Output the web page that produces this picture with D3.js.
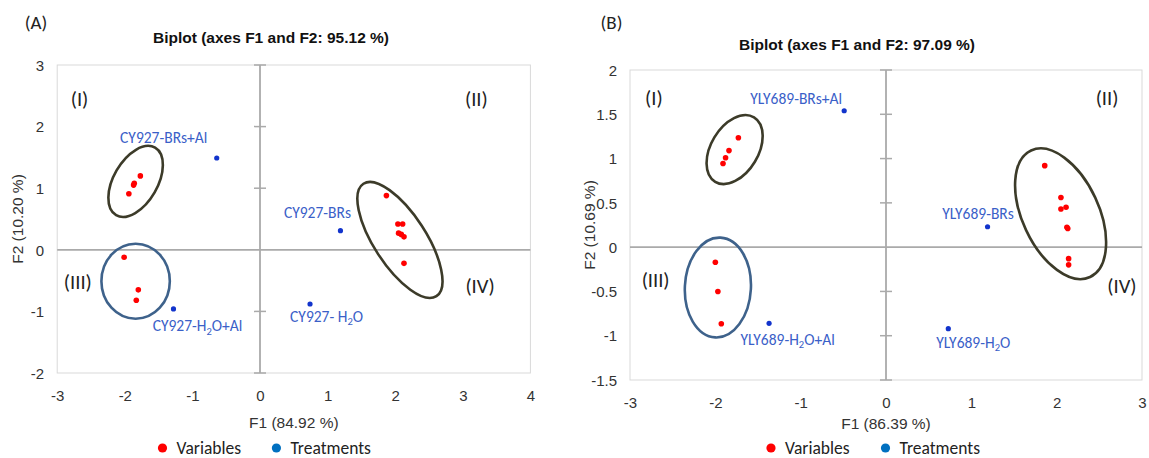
<!DOCTYPE html>
<html>
<head>
<meta charset="utf-8">
<script src="https://cdn.jsdelivr.net/npm/d3@7"></script>
<style>
  body { margin: 0; background: #fff; }
  svg { display: block; }
</style>
</head>
<body>
<svg id="chart" width="1149" height="458"></svg>
<script>
// ---------- Panel A: CY927 ----------
const aTag = "(A)";
const aTitle = "Biplot (axes F1 and F2: 95.12 %)";
const aXLabel = "F1 (84.92 %)";
const aYLabel = "F2 (10.20 %)";
const aXTicks = [-3, -2, -1, 0, 1, 2, 3, 4];
const aYTicks = [-2, -1, 0, 1, 2, 3];
const aVarF1 = [-1.77, -1.86, -1.87, -1.94, -2.01, -1.80, -1.83, 1.87, 2.04, 2.11, 2.05, 2.09, 2.13, 2.13];
const aVarF2 = [1.20, 1.08, 1.05, 0.91, -0.12, -0.65, -0.82, 0.88, 0.42, 0.42, 0.27, 0.25, 0.21, -0.22];
const aTreatNames = ["CY927-BRs+Al", "CY927-BRs", "CY927- H2O", "CY927-H2O+Al"];
const aTreatF1 = [-0.64, 1.19, 0.74, -1.28];
const aTreatF2 = [1.49, 0.31, -0.88, -0.96];
// variable groups: centre (F1, F2), semi-axes (F1 units, F2 units), tilt in degrees
const aGroupF1 = [-1.84, -1.84, 2.07];
const aGroupF2 = [1.11, -0.51, 0.16];
const aGroupRx = [0.325, 0.506, 0.385];
const aGroupRy = [0.633, 0.609, 1.088];
const aGroupTilt = [30, 0, -33];
const aGroupKind = ["olive", "blue", "olive"];
const aQuadNames = ["(I)", "(II)", "(III)", "(IV)"];
const aQuadF1 = [-2.67, 3.2, -2.695, 3.255];
const aQuadF2 = [2.45, 2.45, -0.515, -0.585];

// ---------- Panel B: YLY689 ----------
const bTag = "(B)";
const bTitle = "Biplot (axes F1 and F2: 97.09 %)";
const bXLabel = "F1 (86.39 %)";
const bYLabel = "F2 (10.69 %)";
const bXTicks = [-3, -2, -1, 0, 1, 2, 3];
const bYTicks = [-1.5, -1, -0.5, 0, 0.5, 1, 1.5, 2];
const bVarF1 = [-1.73, -1.84, -1.88, -1.91, -2.00, -1.97, -1.93, 1.86, 2.05, 2.05, 2.11, 2.12, 2.13, 2.14, 2.14];
const bVarF2 = [1.235, 1.09, 1.01, 0.945, -0.17, -0.50, -0.865, 0.92, 0.56, 0.43, 0.45, 0.225, 0.21, -0.13, -0.20];
const bTreatNames = ["YLY689-BRs+Al", "YLY689-BRs", "YLY689-H2O", "YLY689-H2O+Al"];
const bTreatF1 = [-0.49, 1.19, 0.73, -1.37];
const bTreatF2 = [1.54, 0.23, -0.92, -0.86];
const bGroupF1 = [-1.774, -1.97, 2.046];
const bGroupF2 = [1.102, -0.456, 0.377];
const bGroupRx = [0.277, 0.387, 0.448];
const bGroupRy = [0.425, 0.564, 0.788];
const bGroupTilt = [31, 3, -25];
const bGroupKind = ["olive", "blue", "olive"];
const bQuadNames = ["(I)", "(II)", "(III)", "(IV)"];
const bQuadF1 = [-2.72, 2.59, -2.70, 2.765];
const bQuadF2 = [1.686, 1.686, -0.371, -0.44];

const legendNames = ["Variables", "Treatments"];

// ---------- styling ----------
const COL_VAR = "#ff0000";
const COL_TREAT = "#1234cc";
const COL_TREAT_TEXT = "#3a60c8";
const COL_LEG_TREAT = "#0070c0";
const COL_ELLIPSE = { olive: "#3c3b29", blue: "#3e628b" };
const SANS = "'Liberation Sans', Arial, sans-serif";
const LABEL_FONT = "Calibri, Carlito, Lato, 'Open Sans', sans-serif";

const svg = d3.select("#chart");

function drawPanel(p) {
  const x = d3.scaleLinear().domain(p.xDomain).range(p.xRange);
  const y = d3.scaleLinear().domain(p.yDomain).range(p.yRange);
  const g = svg.append("g");
  const [x0, x1] = p.xRange;
  const [y0, y1] = p.yRange; // y0 bottom, y1 top

  // plot frame
  g.append("rect")
    .attr("x", x0).attr("y", y1)
    .attr("width", x1 - x0).attr("height", y0 - y1)
    .attr("fill", "none").attr("stroke", "#d9d9d9").attr("stroke-width", 1);

  // axes crossing at the origin
  g.append("line")
    .attr("x1", x0).attr("x2", x1).attr("y1", y(0)).attr("y2", y(0))
    .attr("stroke", "#aaaaaa").attr("stroke-width", 1.8);
  g.append("line")
    .attr("x1", x(0)).attr("x2", x(0)).attr("y1", y1).attr("y2", y0)
    .attr("stroke", "#aaaaaa").attr("stroke-width", 1.8);
  // tick marks on the vertical axis
  g.selectAll(".ytm").data(p.yTicks.filter(v => v !== 0)).join("line")
    .attr("x1", x(0) - 6).attr("x2", x(0) + 6)
    .attr("y1", d => y(d)).attr("y2", d => y(d))
    .attr("stroke", "#aaaaaa").attr("stroke-width", 1.5);

  // tick labels (axis lines themselves drawn above)
  const yAxis = d3.axisLeft(y).tickValues(p.yTicks).tickSize(0).tickPadding(0)
    .tickFormat(d => String(d));
  const ya = g.append("g").attr("transform", `translate(${x0 - 13},0)`).call(yAxis);
  const xAxis = d3.axisBottom(x).tickValues(p.xTicks).tickSize(0).tickPadding(0)
    .tickFormat(d => String(d));
  const xa = g.append("g").attr("transform", `translate(0,${y0 + 17})`).call(xAxis);
  [ya, xa].forEach(a => {
    a.select(".domain").remove();
    a.selectAll("text").attr("font-family", SANS).attr("font-size", 15).attr("fill", "#333");
  });
  ya.selectAll("text").attr("dy", "0.35em");
  xa.selectAll("text").attr("dy", "0.71em");

  // group ellipses
  g.selectAll(".grp").data(p.groups).join("ellipse")
    .attr("cx", d => x(d.f1)).attr("cy", d => y(d.f2))
    .attr("rx", d => Math.abs(x(d.rx) - x(0)))
    .attr("ry", d => Math.abs(y(d.ry) - y(0)))
    .attr("transform", d => `rotate(${d.tilt},${x(d.f1)},${y(d.f2)})`)
    .attr("fill", "none")
    .attr("stroke", d => COL_ELLIPSE[d.kind])
    .attr("stroke-width", 2.6);

  // variables
  g.selectAll(".var").data(p.vars).join("circle")
    .attr("cx", d => x(d.f1)).attr("cy", d => y(d.f2)).attr("r", 2.8)
    .attr("fill", COL_VAR);

  // treatments
  g.selectAll(".trt").data(p.treats).join("circle")
    .attr("cx", d => x(d.f1)).attr("cy", d => y(d.f2)).attr("r", 2.6)
    .attr("fill", COL_TREAT);

  // treatment labels, with subscript in H2O
  const lab = g.selectAll(".tl").data(p.treats).join("text")
    .attr("x", (d, i) => x(d.f1) + p.labelOffsets[i][0])
    .attr("y", (d, i) => y(d.f2) + p.labelOffsets[i][1])
    .attr("text-anchor", "middle").attr("dy", "0.35em")
    .attr("font-family", LABEL_FONT).attr("font-size", p.labelSize)
    .attr("fill", COL_TREAT_TEXT);
  lab.each(function (d) {
    const t = d3.select(this);
    const parts = d.name.split("H2O");
    parts.forEach((part, k) => {
      if (part) t.append("tspan").text(part);
      if (k < parts.length - 1) {
        t.append("tspan").text("H");
        t.append("tspan").text("2").attr("font-size", p.labelSize * 0.68).attr("dy", "0.3em");
        t.append("tspan").text("O").attr("dy", "-0.2em");
      }
    });
  });

  // quadrant numerals
  g.selectAll(".quad").data(p.quads).join("text")
    .attr("x", d => x(d.f1)).attr("y", d => y(d.f2))
    .attr("text-anchor", "middle").attr("dy", "0.35em")
    .attr("font-family", LABEL_FONT).attr("font-size", 20.5).attr("fill", "#222")
    .text(d => d.name);

  // titles
  svg.append("text").attr("x", p.tagPos[0]).attr("y", p.tagPos[1]).attr("dy", "0.35em")
    .attr("text-anchor", "middle").attr("font-family", LABEL_FONT).attr("font-size", 19)
    .attr("fill", "#222").text(p.tag);
  svg.append("text").attr("x", p.titlePos[0]).attr("y", p.titlePos[1]).attr("dy", "0.35em")
    .attr("text-anchor", "middle").attr("font-family", SANS).attr("font-size", 15.5)
    .attr("font-weight", "bold").attr("fill", "#111").text(p.title);
  svg.append("text").attr("x", (x0 + x1) / 2).attr("y", p.xLabelY).attr("dy", "0.35em")
    .attr("text-anchor", "middle").attr("font-family", SANS).attr("font-size", 15.5)
    .attr("fill", "#333").text(p.xLabel);
  svg.append("text")
    .attr("transform", `translate(${p.yLabelX},${(y0 + y1) / 2}) rotate(-90)`)
    .attr("dy", "0.35em").attr("text-anchor", "middle")
    .attr("font-family", SANS).attr("font-size", 15.5).attr("fill", "#333").text(p.yLabel);

  // legend
  const leg = svg.append("g").attr("transform", `translate(0,${p.legendY})`);
  const legColors = [COL_VAR, COL_LEG_TREAT];
  legendNames.forEach((name, i) => {
    leg.append("circle").attr("cx", p.legendX[i]).attr("cy", 0).attr("r", 4.6).attr("fill", legColors[i]);
    leg.append("text").attr("x", p.legendX[i] + 14).attr("y", 0).attr("dy", "0.35em")
      .attr("font-family", LABEL_FONT).attr("font-size", 17.5).attr("fill", "#222").text(name);
  });
}

function zipPoints(f1, f2, names) {
  return f1.map((v, i) => ({ f1: v, f2: f2[i], name: names ? names[i] : null }));
}
function zipGroups(f1, f2, rx, ry, tilt, kind) {
  return f1.map((v, i) => ({ f1: v, f2: f2[i], rx: rx[i], ry: ry[i], tilt: tilt[i], kind: kind[i] }));
}

drawPanel({
  tag: aTag, title: aTitle, xLabel: aXLabel, yLabel: aYLabel,
  xTicks: aXTicks, yTicks: aYTicks,
  xDomain: [-3, 4], yDomain: [-2, 3],
  xRange: [57.2, 530.4], yRange: [373, 65],
  vars: zipPoints(aVarF1, aVarF2),
  treats: zipPoints(aTreatF1, aTreatF2, aTreatNames),
  groups: zipGroups(aGroupF1, aGroupF2, aGroupRx, aGroupRy, aGroupTilt, aGroupKind),
  quads: zipPoints(aQuadF1, aQuadF2, aQuadNames),
  labelOffsets: [[-53, -20], [-23, -18], [16.5, 12.5], [24, 17]],
  labelSize: 15.5,
  tagPos: [36, 22], titlePos: [271, 38],
  xLabelY: 423, yLabelX: 18,
  legendY: 448, legendX: [162.5, 276.4]
});

drawPanel({
  tag: bTag, title: bTitle, xLabel: bXLabel, yLabel: bYLabel,
  xTicks: bXTicks, yTicks: bYTicks,
  xDomain: [-3, 3], yDomain: [-1.5, 2],
  xRange: [630, 1142], yRange: [380, 70],
  vars: zipPoints(bVarF1, bVarF2),
  treats: zipPoints(bTreatF1, bTreatF2, bTreatNames),
  groups: zipGroups(bGroupF1, bGroupF2, bGroupRx, bGroupRy, bGroupTilt, bGroupKind),
  quads: zipPoints(bQuadF1, bQuadF2, bQuadNames),
  labelOffsets: [[-48, -12], [-9.5, -13.5], [25, 14], [18.5, 16.5]],
  labelSize: 15.5,
  tagPos: [611.5, 22], titlePos: [857, 45],
  xLabelY: 424, yLabelX: 590,
  legendY: 448, legendX: [771, 885.5]
});
</script>
</body>
</html>
